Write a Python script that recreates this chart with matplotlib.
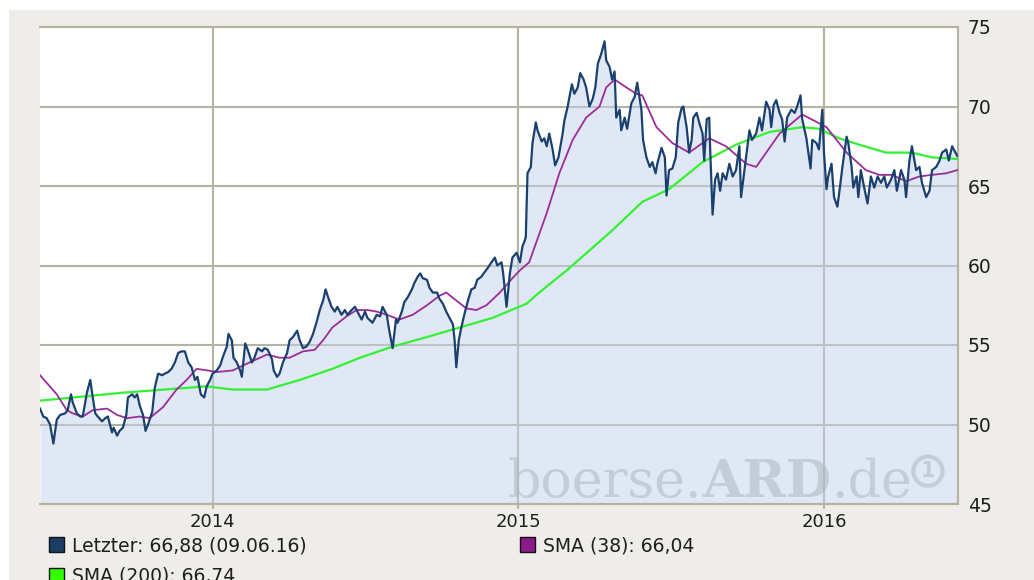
import pandas as pd
import matplotlib
matplotlib.use("Agg")
import matplotlib.pyplot as plt
from matplotlib.patches import Patch, Rectangle

# --- data (days counted from 2013-06-09) ---
start = pd.Timestamp("2013-06-09")
end = pd.Timestamp("2016-06-09")

price_days = [
    0, 4, 8, 12, 16, 20, 24, 30, 33, 37, 39, 44, 48, 51, 56, 60, 63, 66, 69, 74,
    78, 81, 86, 88, 92, 95, 99, 103, 105, 110, 113, 116, 119, 123, 126, 129, 134, 137, 141, 146,
    149, 153, 157, 161, 165, 169, 173, 177, 181, 185, 188, 192, 196, 199, 203, 206, 211, 215, 218, 223,
    225, 229, 231, 235, 239, 241, 245, 248, 253, 256, 260, 265, 268, 272, 277, 279, 283, 286, 290, 295,
    298, 302, 307, 310, 314, 318, 322, 326, 330, 334, 338, 341, 344, 348, 352, 355, 360, 364, 367, 372,
    376, 379, 384, 388, 391, 397, 402, 406, 409, 414, 417, 421, 425, 427, 432, 435, 439, 444, 447, 451,
    454, 457, 462, 465, 469, 474, 477, 481, 485, 489, 493, 495, 497, 500, 503, 507, 511, 515, 519, 522,
    527, 531, 534, 539, 543, 546, 551, 553, 557, 561, 564, 569, 573, 576, 579, 580, 582, 586, 588, 592,
    594, 599, 602, 605, 608, 612, 615, 619, 624, 626, 630, 635, 638, 642, 645, 649, 652, 656, 660, 663,
    666, 670, 674, 676, 680, 683, 686, 688, 692, 694, 698, 701, 706, 710, 713, 718, 720, 724, 728, 731,
    735, 737, 742, 746, 748, 751, 755, 759, 762, 766, 768, 772, 775, 778, 780, 784, 787, 791, 793, 796,
    799, 800, 803, 806, 809, 812, 815, 819, 823, 827, 831, 835, 837, 841, 843, 847, 850, 855, 859, 862,
    867, 871, 873, 876, 879, 883, 886, 889, 892, 897, 901, 904, 908, 910, 915, 920, 922, 927, 930, 934,
    936, 939, 941, 945, 948, 952, 955, 958, 963, 965, 969, 971, 975, 977, 980, 984, 988, 992, 996, 1000,
    1004, 1008, 1011, 1016, 1020, 1023, 1028, 1032, 1034, 1038, 1041, 1046, 1050, 1053, 1058, 1062, 1065,
    1070, 1074, 1077, 1082, 1085, 1089, 1095,
]
price_vals = [
    51.0, 50.5, 50.4, 50.0, 48.8, 50.3, 50.6, 50.7, 50.9, 51.9, 51.4, 50.7, 50.5, 50.5, 52.0, 52.8, 51.7, 50.7, 50.5, 50.2,
    50.4, 50.5, 49.5, 49.8, 49.3, 49.6, 49.8, 50.6, 51.7, 51.9, 51.7, 51.9, 51.2, 50.6, 49.6, 50.0, 50.8, 52.3, 53.2, 53.1,
    53.2, 53.3, 53.5, 53.9, 54.5, 54.6, 54.6, 53.9, 53.6, 52.8, 53.0, 51.9, 51.7, 52.4, 52.8, 53.2, 53.4, 53.7, 54.2, 54.9,
    55.7, 55.3, 54.2, 53.9, 53.4, 53.0, 55.1, 54.7, 53.9, 54.2, 54.8, 54.6, 54.8, 54.7, 54.1, 53.4, 53.0, 53.2, 53.9, 54.5,
    55.3, 55.5, 55.9, 55.3, 54.8, 54.9, 55.2, 55.7, 56.4, 57.2, 57.8, 58.5, 58.0, 57.4, 57.1, 57.4, 56.9, 57.2, 56.9, 57.2,
    57.4, 57.1, 56.6, 57.1, 56.7, 56.4, 56.9, 56.8, 57.4, 56.9, 55.9, 54.8, 56.6, 56.4, 57.1, 57.7, 58.0, 58.5, 58.9, 59.3,
    59.5, 59.2, 59.1, 58.6, 58.3, 58.3, 57.9, 57.6, 57.1, 56.7, 56.3, 55.3, 53.6, 55.3, 56.1, 57.0, 57.8, 58.5, 58.6, 59.1,
    59.3, 59.6, 59.8, 60.2, 60.5, 60.0, 60.2, 59.5, 57.4, 59.5, 60.5, 60.8, 60.2, 61.2, 61.6, 61.8, 65.8, 66.2, 67.7, 69.0,
    68.5, 67.8, 68.0, 67.5, 68.3, 67.3, 66.3, 66.8, 68.3, 69.1, 70.0, 71.4, 70.8, 71.2, 72.1, 71.7, 71.2, 70.0, 70.5, 71.2,
    72.7, 73.3, 74.1, 72.9, 72.5, 71.7, 72.2, 69.3, 69.8, 68.5, 69.3, 68.6, 70.2, 70.6, 71.5, 69.8, 67.9, 66.8, 66.2, 66.5,
    65.8, 66.4, 67.4, 66.8, 64.4, 66.0, 66.1, 66.8, 69.0, 69.9, 70.0, 68.7, 67.1, 67.9, 69.3, 69.6, 69.0, 68.3, 66.6, 69.2,
    69.3, 67.5, 63.2, 65.4, 65.8, 64.7, 65.8, 65.4, 66.4, 65.6, 66.0, 67.5, 64.3, 66.0, 66.8, 68.5, 67.9, 68.3, 69.3, 68.5,
    70.3, 69.8, 68.7, 70.1, 70.4, 69.6, 69.2, 67.8, 69.3, 69.8, 69.6, 70.0, 70.7, 69.2, 68.0, 66.1, 67.9, 67.7, 67.3, 69.8,
    67.1, 64.8, 65.6, 66.4, 64.3, 63.7, 64.9, 66.2, 68.1, 67.7, 66.2, 64.9, 65.6, 64.3, 66.0, 64.9, 63.9, 65.6, 64.9, 65.6,
    65.2, 65.6, 64.9, 65.4, 66.0, 64.7, 66.0, 65.4, 64.3, 66.6, 67.5, 66.0, 66.2, 65.2, 64.3, 64.7, 66.0,
    66.2, 66.6, 67.1, 67.3, 66.6, 67.5, 66.9,
]

sma38_days = [
    0, 20, 32, 39, 51, 63, 80, 92, 104, 119, 131, 147, 163, 175, 187, 200, 211, 230, 250, 271,
    286, 298, 314, 328, 338, 349, 366, 378, 391, 402, 414, 429, 445, 462, 477, 485, 497, 509, 521, 533,
    549, 564, 573, 584, 605, 620, 636, 652, 668, 676, 686, 700, 712, 719, 736, 755, 775, 799, 819, 843,
    855, 883, 910, 939, 963, 986, 1002, 1017, 1034, 1050, 1065, 1082, 1095,
]
sma38_vals = [
    53.1, 51.9, 50.9, 50.7, 50.5, 50.9, 51.0, 50.6, 50.4, 50.5, 50.4, 51.1, 52.2, 52.8, 53.5, 53.4, 53.3, 53.4, 53.9, 54.4,
    54.2, 54.2, 54.6, 54.7, 55.3, 56.1, 56.8, 57.2, 57.2, 57.1, 56.9, 56.6, 56.9, 57.5, 58.1, 58.3, 57.8, 57.3, 57.2, 57.5,
    58.3, 59.2, 59.7, 60.2, 63.3, 65.8, 67.9, 69.3, 70.0, 71.2, 71.7, 71.2, 70.8, 70.7, 68.7, 67.7, 67.1, 68.0, 67.5, 66.4,
    66.2, 68.3, 69.5, 68.7, 67.1, 66.0, 65.7, 65.7, 65.3, 65.6, 65.7, 65.8, 66.0,
]

sma200_days = [
    0, 99, 199, 230, 271, 310, 349, 382, 421, 462, 501, 540, 581, 596, 629, 683, 697, 719, 743, 751,
    791, 831, 871, 910, 930, 954, 978, 1010, 1041, 1065, 1095,
]
sma200_vals = [
    51.5, 52.0, 52.4, 52.2, 52.2, 52.8, 53.5, 54.2, 54.9, 55.5, 56.1, 56.7, 57.6, 58.3, 59.7, 62.2, 62.9, 64.0, 64.6, 64.8,
    66.5, 67.6, 68.4, 68.7, 68.6, 68.0, 67.6, 67.1, 67.1, 66.8, 66.7,
]

last_value = 66.88
last_date = "09.06.16"
sma38_last = 66.04
sma200_last = 66.74

year_ticks = ["2014", "2015", "2016"]
y_ticks = [45, 50, 55, 60, 65, 70, 75]


def to_dates(days):
    return (start + pd.to_timedelta(days, unit="D")).values


def de(v):
    return f"{v:.2f}".replace(".", ",")


# --- colours ---
bg = "#EEEDE9"
grid_col = "#B4B2A0"
line_col = "#1A416E"
fill_col = "#C1D3EB"
sma38_col = "#9B2D9B"
sma200_col = "#33F233"
wm_col = (0.66, 0.70, 0.74, 0.5)
txt_col = "#1E1E1E"

W, H = 1034, 580
fig = plt.figure(figsize=(W / 100, H / 100), dpi=100, facecolor="white")
fig.patches.append(Rectangle((9 / W, 0), 1, (H - 10) / H, transform=fig.transFigure,
                             facecolor=bg, edgecolor="none", zorder=-10))

ax = fig.add_axes([40 / W, 76 / H, 918 / W, 477 / H])
ax.set_facecolor("white")

pd_dates = to_dates(price_days)
ax.fill_between(pd_dates, price_vals, 45, color=fill_col, alpha=0.5, lw=0, zorder=1)
ax.plot(to_dates(sma200_days), sma200_vals, color=sma200_col, lw=1.6, zorder=3)
ax.plot(to_dates(sma38_days), sma38_vals, color=sma38_col, lw=1.3, zorder=3.5)
ax.plot(pd_dates, price_vals, color=line_col, lw=1.6, zorder=4)

ax.set_xlim(start, end)
ax.set_ylim(45, 75)

ax.set_xticks([pd.Timestamp(f"{y}-01-01") for y in year_ticks])
ax.set_xticklabels(year_ticks)
ax.set_yticks(y_ticks)
ax.set_yticklabels([str(v) for v in y_ticks])
ax.yaxis.tick_right()
ax.tick_params(axis="y", length=0, pad=7, labelsize=13.5, labelcolor=txt_col)
ax.tick_params(axis="x", length=3.8, width=1.5, color=grid_col, pad=2.5,
               labelsize=13, labelcolor=txt_col)

ax.set_axisbelow(True)
ax.grid(True, color=grid_col, lw=1.5)
for side in ["top", "bottom", "right"]:
    ax.spines[side].set_color(grid_col)
    ax.spines[side].set_linewidth(1.5)
ax.spines["left"].set_visible(False)

# watermark
t1 = ax.text((508 - 40) / 918, (504 - 497) / 477, "boerse.", transform=ax.transAxes,
             family="DejaVu Serif", fontsize=37.5, color=wm_col, va="baseline", ha="left", zorder=2)
t2 = ax.annotate("ARD", xy=(1, 0), xycoords=t1, va="bottom", ha="left",
                 family="DejaVu Serif", fontweight="bold", fontsize=37.5, color=wm_col, zorder=2)
t3 = ax.annotate(".de", xy=(1, 0), xycoords=t2, va="bottom", ha="left",
                 family="DejaVu Serif", fontsize=37.5, color=wm_col, zorder=2)
ax.annotate("1", xy=(1, 1), xycoords=t3, xytext=(6, -3), textcoords="offset points",
            va="top", ha="left", fontsize=15, fontweight="bold", color=wm_col, zorder=2,
            bbox=dict(boxstyle="circle,pad=0.22", fc="none", ec=wm_col, lw=3))

# legend
h_last = Patch(facecolor="#1B3D66", edgecolor="#111111", lw=1,
               label=f"Letzter: {de(last_value)} ({last_date})")
h_200 = Patch(facecolor="#33FF00", edgecolor="#111111", lw=1,
              label=f"SMA (200): {de(sma200_last)}")
h_38 = Patch(facecolor="#8B1A8B", edgecolor="#111111", lw=1,
             label=f"SMA (38): {de(sma38_last)}")
leg_kw = dict(loc="upper left", frameon=False, borderpad=0, borderaxespad=0,
              handlelength=0.8, handleheight=0.8, handletextpad=0.45,
              labelspacing=0.6, fontsize=13.5, labelcolor=txt_col)
fig.legend(handles=[h_last, h_200], bbox_to_anchor=(49 / W, 1 - 536 / H), **leg_kw)
fig.legend(handles=[h_38], bbox_to_anchor=(520 / W, 1 - 536 / H), **leg_kw)

fig.savefig("out.png", dpi=100, facecolor=fig.get_facecolor())
